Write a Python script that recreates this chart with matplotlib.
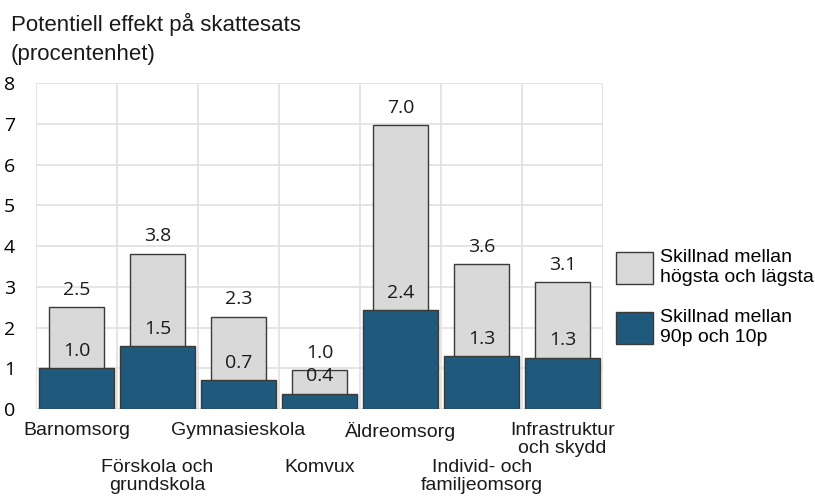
import matplotlib.pyplot as plt

categories = ['Barnomsorg', 'Förskola och\ngrundskola', 'Gymnasieskola', 'Komvux',
              'Äldreomsorg', 'Individ- och\nfamiljeomsorg', 'Infrastruktur\noch skydd']
hogsta_lagsta = [2.50, 3.81, 2.27, 0.96, 6.96, 3.56, 3.12]
p90_p10 = [1.00, 1.54, 0.70, 0.38, 2.43, 1.29, 1.26]

grey = '#d9d9d9'
blue = '#1f5a7c'
edge = '#3a3a3a'
value_font = ['Open Sans', 'DejaVu Sans']
label_font = ['Liberation Sans', 'DejaVu Sans']

fig = plt.figure(figsize=(8.15, 5.01), dpi=100)
ax = fig.add_axes([0.0442, 0.1836, 0.6958, 0.6507])

x = range(len(categories))
# grå stapel bakom, smalare; blå stapel framför, bredare
g = ax.bar(x, hogsta_lagsta, width=0.68, color=grey, edgecolor=edge, linewidth=1,
           label='Skillnad mellan\nhögsta och lägsta', zorder=2)
b = ax.bar(x, p90_p10, width=0.93, color=blue, edgecolor=edge, linewidth=1,
           label='Skillnad mellan\n90p och 10p', zorder=3)

for i in x:
    for v in (hogsta_lagsta[i], p90_p10[i]):
        ax.annotate(f'{v:.1f}', (i, v), xytext=(0, 12.5),
                    textcoords='offset points', ha='center', va='center',
                    fontsize=14, family=value_font, color='#1a1a1a', zorder=4)

ax.set_xlim(-0.5, len(categories) - 0.5)
ax.set_ylim(0, 8)
ax.set_yticks(range(0, 9))
ax.set_yticklabels([str(v) for v in range(0, 9)], family=value_font, fontsize=14)
ax.tick_params(axis='y', length=0, pad=15)
ax.set_xticks([])

# rutnät: horisontellt vid heltal, vertikalt mellan kategorier
for yv in range(0, 9):
    ax.axhline(yv, color='#e0e0e0', linewidth=1.2, zorder=1)
for xv in [i - 0.5 for i in range(len(categories) + 1)]:
    ax.axvline(xv, color='#e0e0e0', linewidth=1.2, zorder=1)
for s in ax.spines.values():
    s.set_visible(False)

# kategorietiketter i två rader (varannan lägre)
for i, cat in enumerate(categories):
    off = -9 if i % 2 == 0 else -36
    ax.annotate(cat, (i, 0), xycoords=('data', 'axes fraction'), xytext=(0, off),
                textcoords='offset points', ha='center', va='top',
                fontsize=14, family=label_font, color='#1a1a1a', linespacing=1.1)

fig.text(11 / 815, 1 - 31 / 501, 'Potentiell effekt på skattesats',
         ha='left', va='baseline', fontsize=16, family=label_font, color='#1a1a1a')
fig.text(11 / 815, 1 - 60 / 501, '(procentenhet)',
         ha='left', va='baseline', fontsize=16, family=label_font, color='#1a1a1a')

ax.legend(handles=[g, b], loc='upper left', bbox_to_anchor=(616 / 815, 1 - 249 / 501),
          bbox_transform=fig.transFigure, frameon=False,
          prop={'family': label_font, 'size': 14}, handlelength=1.9, handleheight=2.15,
          labelspacing=1.2, handletextpad=0.35, borderpad=0, borderaxespad=0)

fig.savefig('out.png', dpi=100)
